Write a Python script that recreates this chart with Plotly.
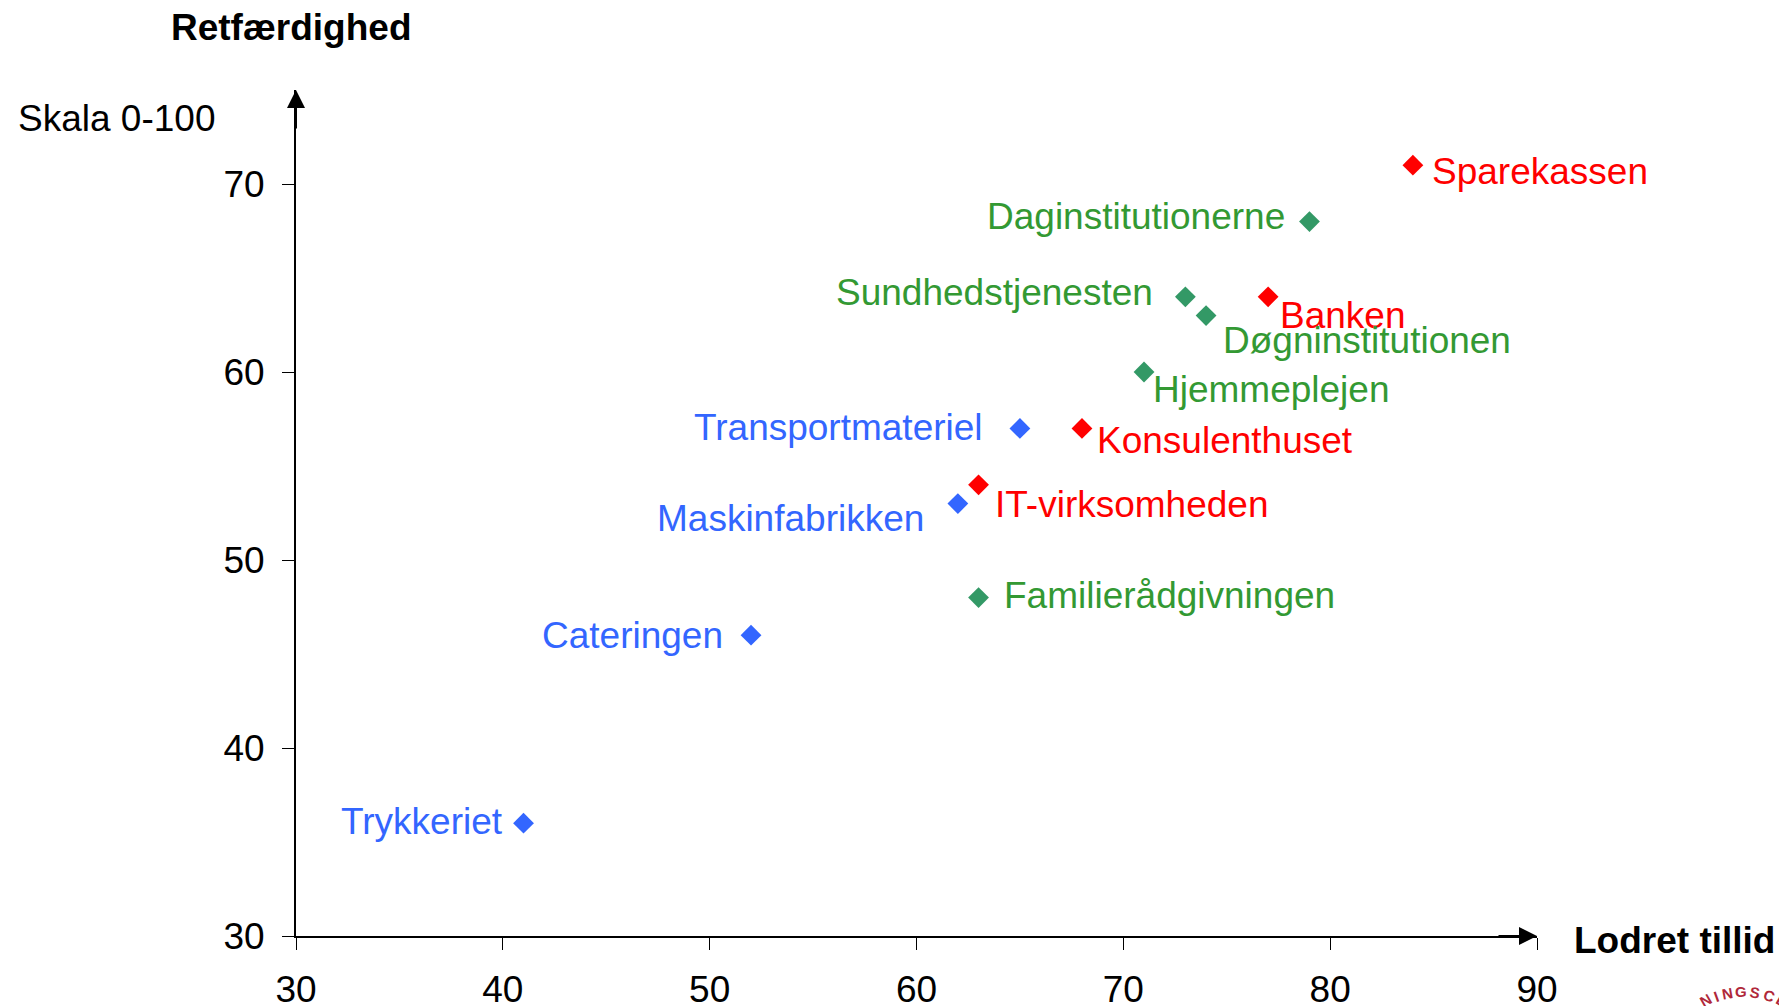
import plotly.graph_objects as go

# Lodret tillid (x) og retfaerdighed (y), skala 0-100
names = ['Sparekassen', 'Banken', 'Konsulenthuset', 'IT-virksomheden',
         'Daginstitutionerne', 'Sundhedstjenesten', 'Døgninstitutionen',
         'Hjemmeplejen', 'Familierådgivningen',
         'Transportmateriel', 'Maskinfabrikken', 'Cateringen', 'Trykkeriet']
lodret_tillid = [84, 77, 68, 63, 79, 73, 74, 71, 63, 65, 62, 52, 41]
retfaerdighed = [71, 64, 57, 54, 68, 64, 63, 60, 48, 57, 53, 46, 36]
groups = ['Service'] * 4 + ['Offentlig'] * 5 + ['Produktion'] * 4

x_ticks = [30, 40, 50, 60, 70, 80, 90]
y_ticks = [30, 40, 50, 60, 70]

marker_colors = {'Service': '#FF0000', 'Offentlig': '#339966', 'Produktion': '#3366FF'}
text_colors = {'Service': '#FF0000', 'Offentlig': '#339933', 'Produktion': '#3366FF'}

# label placement: (side, dx px, dy px down)
label_pos = {
    'Sparekassen': ('left', 17, 6),
    'Banken': ('left', 10, 19),
    'Konsulenthuset': ('left', 13, 12),
    'IT-virksomheden': ('left', 14, 20),
    'Daginstitutionerne': ('right', -22, -5),
    'Sundhedstjenesten': ('right', -30, -4),
    'Døgninstitutionen': ('left', 15, 25),
    'Hjemmeplejen': ('left', 7, 17),
    'Familierådgivningen': ('left', 23, -2),
    'Transportmateriel': ('right', -35, -1),
    'Maskinfabrikken': ('right', -32, 15),
    'Cateringen': ('right', -26, 0),
    'Trykkeriet': ('right', -19, -2),
}

FONT = 'Liberation Sans, Arial, Helvetica, sans-serif'

fig = go.Figure()
for g in ['Produktion', 'Service', 'Offentlig']:
    xs = [x for x, gg in zip(lodret_tillid, groups) if gg == g]
    ys = [y for y, gg in zip(retfaerdighed, groups) if gg == g]
    fig.add_trace(go.Scatter(
        x=xs, y=ys, mode='markers', name=g,
        marker=dict(symbol='diamond', size=16, color=marker_colors[g], line=dict(width=0)),
        cliponaxis=False,
    ))

annotations = []
for n, x, y, g in zip(names, lodret_tillid, retfaerdighed, groups):
    side, dx, dy = label_pos[n]
    annotations.append(dict(
        x=x, y=y, xref='x', yref='y', text=n, showarrow=False,
        xanchor=side, yanchor='middle', xshift=dx, yshift=-dy,
        font=dict(size=37, color=text_colors[g], family=FONT),
    ))

# axis arrows
annotations.append(dict(x=30, y=75, xref='x', yref='y', ax=0, ay=40, axref='pixel', ayref='pixel',
                        text='', showarrow=True, arrowhead=2, arrowsize=1.8, arrowwidth=2,
                        arrowcolor='black', standoff=0))
annotations.append(dict(x=90, y=30, xref='x', yref='y', ax=-40, ay=0, axref='pixel', ayref='pixel',
                        text='', showarrow=True, arrowhead=2, arrowsize=1.8, arrowwidth=2,
                        arrowcolor='black', standoff=0))

# axis titles
annotations.append(dict(x=0, y=1, xref='paper', yref='paper', xshift=-5, yshift=63,
                        text='<b>Retfærdighed</b>', showarrow=False, xanchor='center', yanchor='middle',
                        font=dict(size=37, color='black', family=FONT)))
annotations.append(dict(x=0, y=1, xref='paper', yref='paper', xshift=-280, yshift=-28,
                        text='Skala 0-100', showarrow=False, xanchor='left', yanchor='middle',
                        font=dict(size=37, color='black', family=FONT)))
annotations.append(dict(x=1, y=0, xref='paper', yref='paper', xshift=35, yshift=-4,
                        text='<b>Lodret tillid</b>', showarrow=False, xanchor='left', yanchor='middle',
                        font=dict(size=37, color='black', family=FONT)))

# cut-off logo in the corner
logo_letters = ['N', 'I', 'N', 'G', 'S', 'C', 'E']
logo_spots = [(1705, 1000, -30), (1716, 996, -20), (1727, 993, -10), (1741, 991, 0),
              (1755, 992, 10), (1769, 995, 20), (1782, 1000, 30)]
for ch, (px, py, ang) in zip(logo_letters, logo_spots):
    annotations.append(dict(x=1, y=0, xref='paper', yref='paper', xshift=px - 1537, yshift=936 - py,
                            xanchor='center', yanchor='middle',
                            text='<b>' + ch + '</b>', showarrow=False, textangle=ang,
                            font=dict(size=15, color='#B0283A', family=FONT)))

# page body has an 8px margin, so the plot box is pulled in by 8px
fig.update_layout(
    width=1787, height=1006,
    paper_bgcolor='white', plot_bgcolor='white',
    showlegend=False,
    margin=dict(l=288, r=258, t=82, b=78, autoexpand=False),
    xaxis=dict(
        range=[30, 90], tickvals=x_ticks, showgrid=False, zeroline=False, automargin=False,
        showline=True, linecolor='black', linewidth=2,
        ticks='outside', ticklen=12, tickwidth=1, tickcolor='black',
        ticklabelstandoff=8,
        tickfont=dict(size=37, color='black', family=FONT),
    ),
    yaxis=dict(
        range=[30, 75], tickvals=y_ticks, showgrid=False, zeroline=False, automargin=False,
        showline=True, linecolor='black', linewidth=2,
        ticks='outside', ticklen=12, tickwidth=1, tickcolor='black',
        ticklabelstandoff=10,
        tickfont=dict(size=37, color='black', family=FONT),
    ),
    annotations=annotations,
)

fig.write_html('out.html')
